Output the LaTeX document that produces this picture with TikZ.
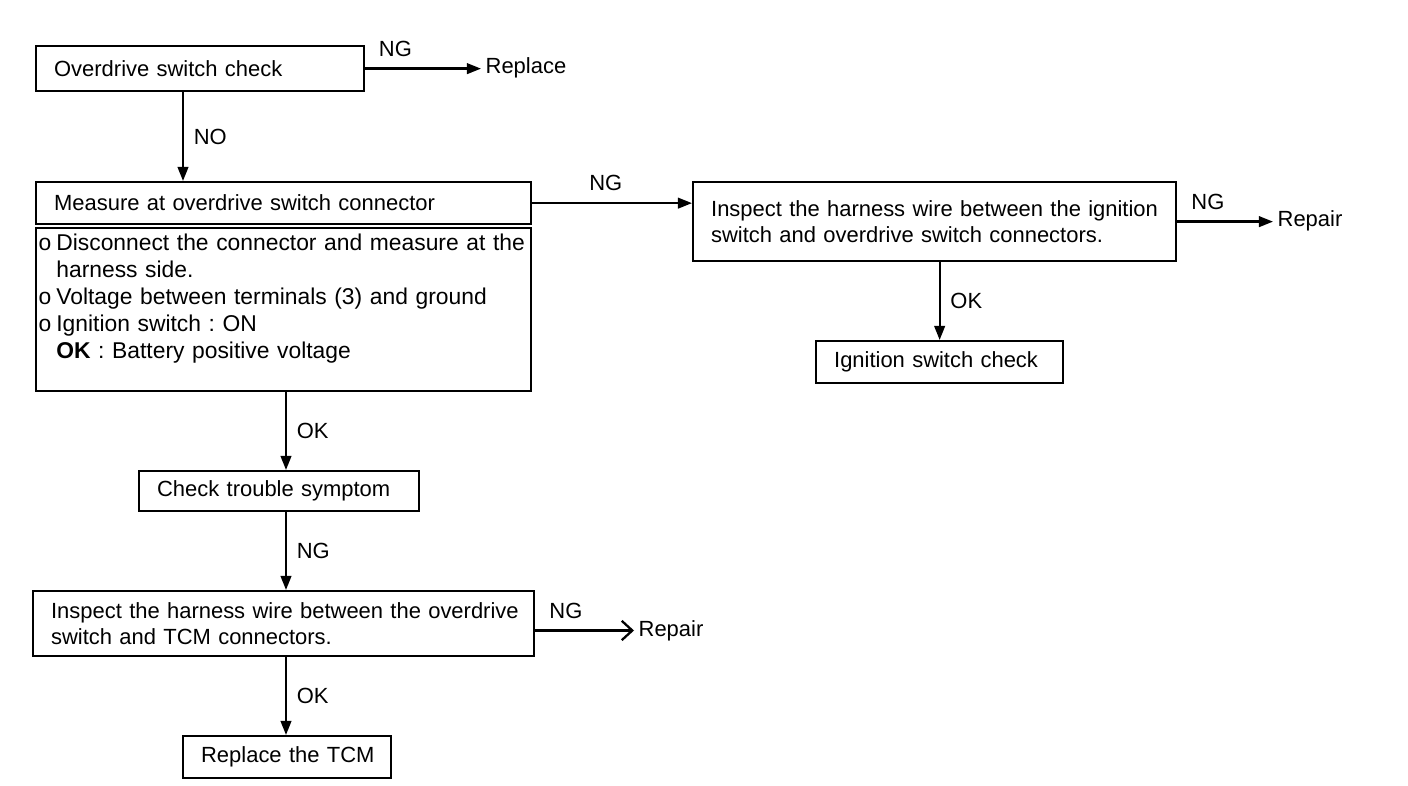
\documentclass[tikz,border=0pt]{standalone}
\usepackage{fontspec}
\setmainfont{Liberation Sans}
\usetikzlibrary{arrows.meta}
\tikzset{chkbox/.style={
  rectangle,
  draw,line width=1.3pt,
  anchor=north west,
  inner xsep=0.36cm,inner ysep=0pt,
  align=left}}
\tikzset{tag/.style={inner sep=2pt}}
\tikzset{>={Triangle[length=8pt,width=6pt]}}
\newcommand{\bul}{o\hspace{0.22em}}
\newcommand{\ind}{\phantom{o\hspace{0.22em}}}

\begin{document}
\frenchspacing
\begin{tikzpicture}[x=0.02cm,y=-0.02cm,line width=1.3pt,
    font=\fontsize{12.5}{15.3}\selectfont]
  \useasboundingbox (0,0) rectangle (1408,786);
  \foreach \n/\p/\w/\h/\l in {
      chk/{(35,45)}/328/45/{\mbox{Overdrive switch check}},
      meas/{(35,181)}/495/42/{\mbox{Measure at overdrive switch connector}},
      insp/{(692,181)}/483/79/{\mbox{Inspect the harness wire between the ignition}\\\mbox{switch and overdrive switch connectors.}},
      ign/{(815,340)}/247/42/{\mbox{Ignition switch check}},
      sym/{(138,470)}/280/40/{\mbox{Check trouble symptom}},
      harn/{(32,590)}/501/65/{\mbox{Inspect the harness wire between the overdrive}\\\mbox{switch and TCM connectors.}},
      tcm/{(182,735)}/208/42/{\mbox{Replace the TCM}} }
  {
    \pgfmathsetmacro{\tw}{(\w-36)*0.02}
    \node[chkbox,text width=\tw cm,minimum height=\h*0.02cm] (\n) at \p {\l};
  }
  % conditions under the header
  \node[chkbox,inner xsep=0.05cm,text width=9.8cm,minimum height=3.26cm,
      font=\fontsize{13}{15.3}\selectfont] (measb) at (35,227)
    {\bul Disconnect the connector and measure at the\\
     \ind harness side.\\
     \bul Voltage between terminals (3) and ground\\
     \bul Ignition switch : ON\\
     \ind\textbf{OK} : Battery positive voltage\\ \mbox{}};
  % free ends
  \node[tag,anchor=west] (rplc) at (481,67.5) {Replace};
  \node[tag,anchor=west] (rpr1) at (1273,220.5) {Repair};
  \node[tag,anchor=west] (rpr2) at (634,630.5) {Repair};
  \coordinate (main) at (286,0);
  \coordinate (colo) at (183,0);
  % connectors
  \draw[->] (chk.south -| colo) -- node[tag,right=3.5pt]{NO} (meas.north -| colo);
  \foreach \m/\n/\t in {measb/sym/OK,sym/harn/NG,harn/tcm/OK}
    \draw[->] (\m.south -| main) -- node[tag,right=3.5pt]{\t} (\n.north -| main);
  \draw[->] (ign.north |- insp.south) -- node[tag,right=3.5pt]{OK} (ign.north);
  \draw[->] (chk.east) -- node[tag,above=4.3pt,pos=0.26]{NG} (chk.east -| rplc.west);
  \draw[->] (meas.east) -- node[tag,above=4.3pt,pos=0.46]{NG} (meas.east -| insp.west);
  \draw[->] (insp.east) -- node[tag,above=4.3pt,pos=0.32]{NG} (insp.east -| rpr1.west);
  \draw[-{Straight Barb[length=6pt,width=11pt]}] (rpr2.west -| harn.east)
    -- node[tag,above=4.3pt,pos=0.31]{NG} (rpr2.west);
\end{tikzpicture}
\end{document}
